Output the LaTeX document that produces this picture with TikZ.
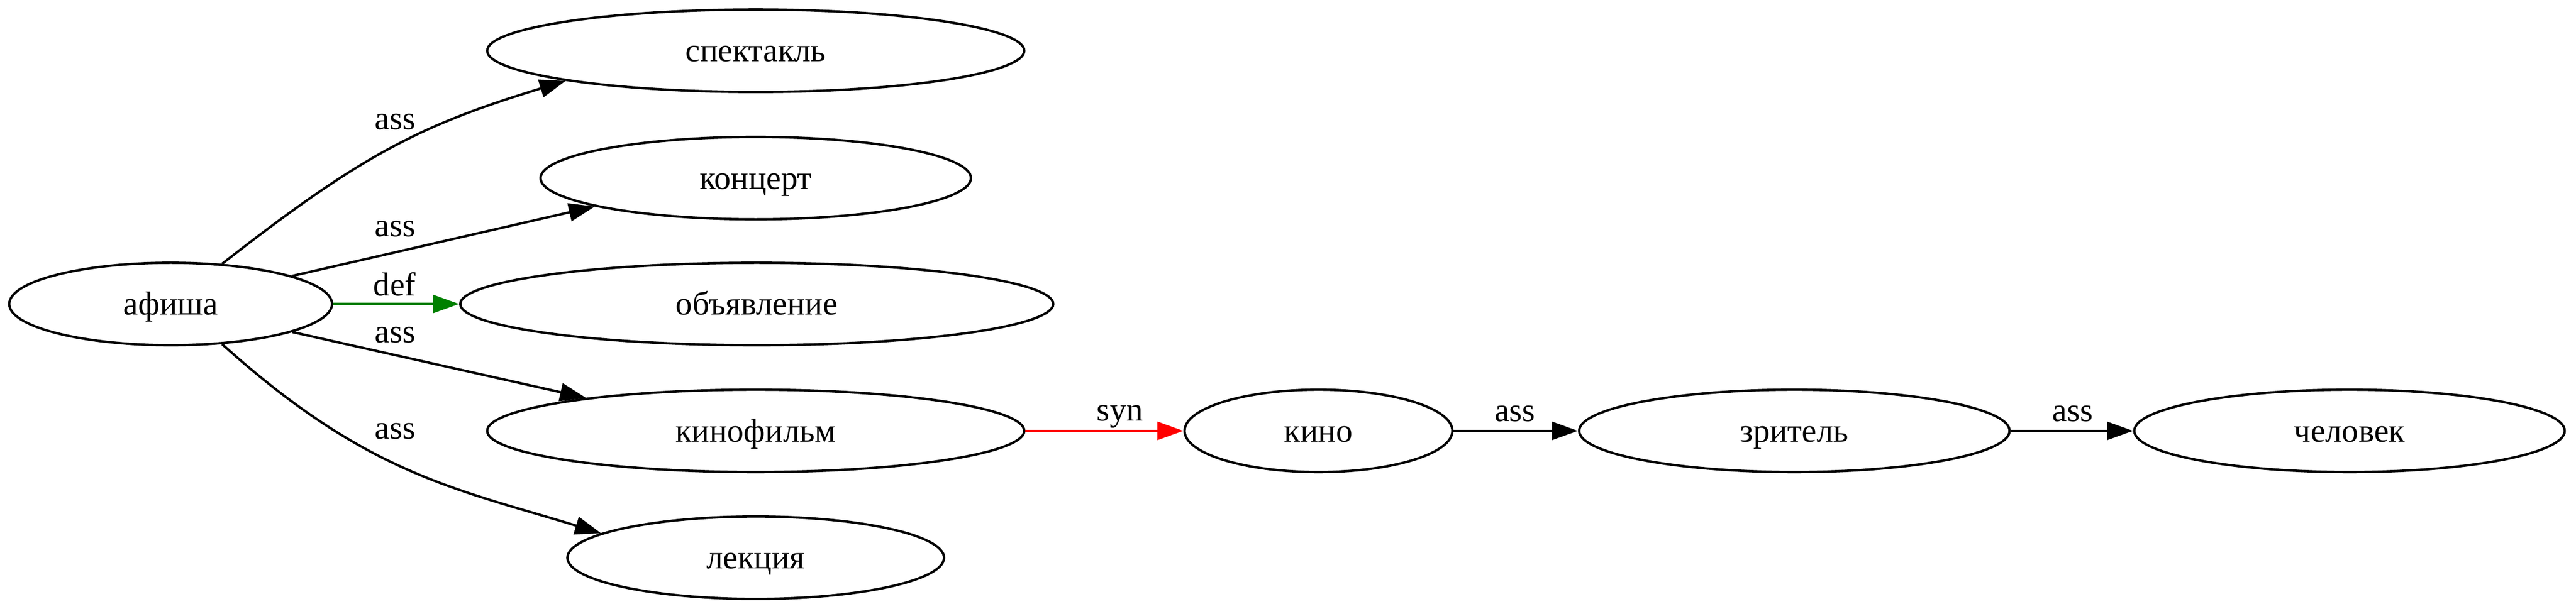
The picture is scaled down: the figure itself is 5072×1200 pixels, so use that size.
\documentclass[tikz,border=0pt]{standalone}
\usepackage{fontspec}
\setmainfont{Liberation Serif}
\usetikzlibrary{arrows.meta,shapes.geometric}
\begin{document}
\begin{tikzpicture}[x=0.2143pt,y=0.2143pt,
  every node/.style={font=\fontsize{14}{17}\selectfont},
  ell/.style={ellipse, draw, line width=1pt, inner sep=0pt, minimum height=34.8pt, text height=9.2pt, text depth=0pt},
  edge/.style={line width=1pt, -{Triangle[length=11pt,width=7.6pt]}},
  lbl/.style={inner sep=0pt}]
\useasboundingbox (0,0) rectangle (5072,-1200);
\node[ell, minimum width=136.2pt] (afisha) at (336,-599) {афиша};
\node[ell, minimum width=226.6pt] (spek) at (1488,-100) {спектакль};
\node[ell, minimum width=181.6pt] (konc) at (1488,-351) {концерт};
\node[ell, minimum width=250.2pt] (obyav) at (1490,-599) {объявление};
\node[ell, minimum width=226.6pt] (kinof) at (1488,-849) {кинофильм};
\node[ell, minimum width=158.9pt] (lekc) at (1488,-1099) {лекция};
\node[ell, minimum width=113pt] (kino) at (2596,-849) {кино};
\node[ell, minimum width=181.6pt] (zrit) at (3533,-849) {зритель};
\node[ell, minimum width=181.6pt] (chel) at (4626,-849) {человек};
\draw[edge] (afisha.38) to[out=38,in=197,out looseness=1.17,in looseness=1.0] (spek.189);
\draw[edge] (afisha.13.7) -- (konc.190.1);
\draw[edge, draw=green!50!black, fill=green!50!black] (afisha.east) -- (obyav.west);
\draw[edge] (afisha.-13.7) -- (kinof.169);
\draw[edge] (afisha.-38) to[out=-42,in=163,out looseness=1.17,in looseness=0.93] (lekc.171.8);
\draw[edge, draw=red, fill=red] (kinof.east) -- (kino.west);
\draw[edge] (kino.east) -- (zrit.west);
\draw[edge] (zrit.east) -- (chel.west);
\node[lbl] (l1) at (778,-240) {ass};
\node[lbl] (l2) at (778,-451) {ass};
\node[lbl] (l3) at (777,-560) {def};
\node[lbl] (l4) at (778,-660) {ass};
\node[lbl] (l5) at (778,-850) {ass};
\node[lbl] (l6) at (2205,-821) {syn};
\node[lbl] (l7) at (2983,-815) {ass};
\node[lbl] (l8) at (4081,-815) {ass};
\end{tikzpicture}
\end{document}
